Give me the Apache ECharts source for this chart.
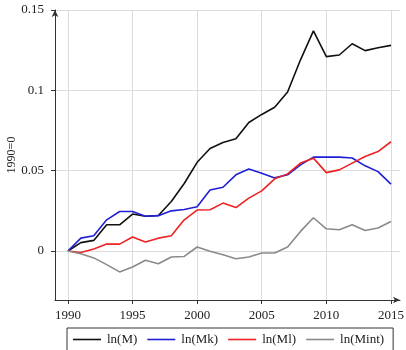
<!DOCTYPE html>
<html>
<head>
<meta charset="utf-8">
<style>
  html, body { margin: 0; padding: 0; background: #fff; }
  #chart { width: 406px; height: 350px; }
</style>
<script src="https://cdn.jsdelivr.net/npm/echarts@6/dist/echarts.min.js"></script>
</head>
<body>
<div id="chart"></div>
<script>
  const years = [1990, 1991, 1992, 1993, 1994, 1995, 1996, 1997, 1998, 1999, 2000, 2001, 2002,
    2003, 2004, 2005, 2006, 2007, 2008, 2009, 2010, 2011, 2012, 2013, 2014, 2015]
  const lnM = [0, 0.0052, 0.0066, 0.0163, 0.0163, 0.023, 0.0216, 0.0221, 0.0308, 0.042, 0.0552, 0.0638, 0.0675,
    0.0698, 0.080, 0.085, 0.0895, 0.099, 0.119, 0.137, 0.121, 0.122, 0.129, 0.1247, 0.1265, 0.128]
  const lnMk = [0, 0.008, 0.0095, 0.0194, 0.0246, 0.0246, 0.0216, 0.022, 0.025, 0.0258, 0.0275, 0.038, 0.0397,
    0.0474, 0.051, 0.0484, 0.0455, 0.0474, 0.0536, 0.0584, 0.0585, 0.0584, 0.0579, 0.053, 0.0494, 0.0416]
  const lnMl = [0, -0.0009, 0.0012, 0.0043, 0.0043, 0.0087, 0.0056, 0.008, 0.0095, 0.0194, 0.0255, 0.0257, 0.0298,
    0.027, 0.0329, 0.0374, 0.0449, 0.048, 0.0547, 0.0578, 0.0488, 0.0505, 0.0547, 0.0588, 0.0619, 0.068]
  const lnMint = [0, -0.0017, -0.0043, -0.0085, -0.013, -0.01, -0.0058, -0.0079, -0.0037, -0.0034, 0.0025, -0.0002, -0.0023,
    -0.0048, -0.0037, -0.0012, -0.0012, 0.0025, 0.0122, 0.0207, 0.0138, 0.0132, 0.0163, 0.0128, 0.0143, 0.0184]
  const xTicks = [1990, 1995, 2000, 2005, 2010, 2015]
  const yTicks = [0, 0.05, 0.1, 0.15]
  const names = ['ln(M)', 'ln(Mk)', 'ln(Ml)', 'ln(Mint)']

  const font = 'Liberation Serif'
  const chart = echarts.init(document.getElementById('chart'))

  function pairs (vals) {
    return years.map((y, i) => [y, vals[i]])
  }

  chart.setOption({
    animation: false,
    color: ['#111111', '#1f1fd6', '#ee2222', '#8a8a8a'],
    grid: { left: 55, right: 6, top: 10, bottom: 50, outerBoundsMode: 'none', containLabel: false },
    legend: {
      data: names,
      left: 67,
      top: 328,
      width: 340,
      padding: [5, 9, 5, 6],
      borderColor: '#333',
      borderWidth: 1,
      borderRadius: 0,
      itemWidth: 28,
      itemHeight: 1.6,
      itemGap: 10,
      icon: 'rect',
      textStyle: { fontFamily: font, fontSize: 13, color: '#222', padding: [0, 0, 0, 1] }
    },
    xAxis: {
      type: 'value',
      min: 1989,
      max: 2015.7,
      axisLine: { show: true, onZero: false, symbol: ['none', 'arrow'], symbolSize: [5, 7], lineStyle: { color: '#333', width: 1 } },
      axisTick: { show: true, length: 4, customValues: xTicks, lineStyle: { color: '#333' } },
      axisLabel: { customValues: xTicks, fontFamily: font, fontSize: 13, color: '#222', margin: 9, formatter: (v) => String(v) },
      splitLine: { show: true, lineStyle: { color: '#dcdcdc', width: 1 } }
    },
    yAxis: {
      type: 'value',
      min: -0.0305,
      max: 0.15,
      name: '1990=0',
      nameLocation: 'middle',
      nameGap: 37,
      nameRotate: 90,
      nameMoveOverlap: false,
      nameTextStyle: { fontFamily: font, fontSize: 12, color: '#222' },
      axisLine: { show: true, onZero: false, symbol: ['none', 'arrow'], symbolSize: [5, 7], lineStyle: { color: '#333', width: 1 } },
      axisTick: { show: true, length: 4, customValues: yTicks, lineStyle: { color: '#333' } },
      axisLabel: { customValues: yTicks, fontFamily: font, fontSize: 13, color: '#222', margin: 11, formatter: (v) => String(v) },
      splitLine: { show: true, lineStyle: { color: '#dcdcdc', width: 1 } }
    },
    series: [
      { name: names[0], type: 'line', data: pairs(lnM), showSymbol: false, lineStyle: { width: 1.6 } },
      { name: names[1], type: 'line', data: pairs(lnMk), showSymbol: false, lineStyle: { width: 1.6 } },
      { name: names[2], type: 'line', data: pairs(lnMl), showSymbol: false, lineStyle: { width: 1.6 } },
      { name: names[3], type: 'line', data: pairs(lnMint), showSymbol: false, lineStyle: { width: 1.6 } }
    ]
  })
</script>
</body>
</html>
